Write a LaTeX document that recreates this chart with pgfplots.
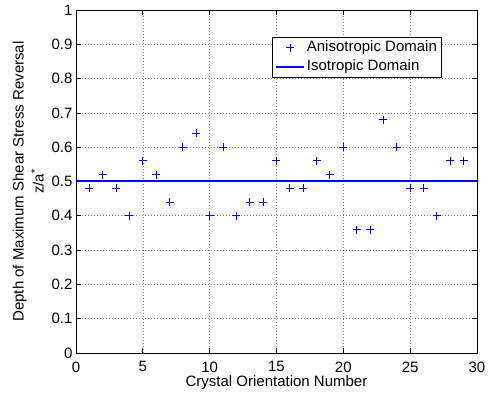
\documentclass[border=0pt]{standalone}
\usepackage{pgfplots}
\pgfplotsset{compat=1.18}
\usepackage{fontspec}
\setmainfont{Liberation Sans}
\definecolor{mblue}{RGB}{0,0,255}
\pgfplotsset{
  legmark/.style={legend image code/.code={\draw[mark repeat=2,mark phase=2,##1] plot coordinates {(0pt,0pt) (14pt,0pt) (28pt,0pt)};}},
  legline/.style={legend image code/.code={\draw[##1] (0pt,0pt) -- (28pt,0pt);}},
}
\begin{document}
\begin{tikzpicture}[x=1pt,y=1pt]
\begin{axis}[
  at={(0,0)}, anchor=origin,
  scale only axis, width=401pt, height=343pt,
  xmin=0, xmax=30, ymin=0, ymax=1,
  xtick={0,5,...,30}, ytick={0,0.1,...,1},
  yticklabels={0,0.1,0.2,0.3,0.4,0.5,0.6,0.7,0.8,0.9,1},
  /pgf/number format/assume math mode=true,
  tick label style={font=\fontsize{15}{17}\selectfont},
  xticklabel style={yshift=-5pt},
  label style={font=\fontsize{15}{20}\selectfont},
  grid=major,
  grid style={dash pattern=on 0.8pt off 2.2pt, black!50, line width=0.6pt},
  tick align=inside,
  major tick length=5pt,
  axis line style={line width=0.9pt},
  every tick/.style={line width=0.7pt, black},
  xlabel={Crystal Orientation Number},
  xlabel style={yshift=3pt},
  ylabel style={align=center, yshift=1pt},
  ylabel={Depth of Maximum Shear Stress Reversal\\z/a\textsuperscript{*}},
  legend style={at={(axis cs:14.66,0.921)}, anchor=north west,
    font=\fontsize{15}{17}\selectfont, draw=black, line width=0.8pt,
    inner xsep=3pt, inner ysep=1pt, row sep=0pt,
    nodes={inner sep=1.5pt, text height=12pt, text depth=4pt}},
  legend cell align=left,
]
\addplot[only marks, mark=+, draw=mblue, mark options={draw=mblue}, mark size=4pt, line width=1pt, legmark] coordinates {
(1,0.48) (2,0.52) (3,0.48) (4,0.40) (5,0.56) (6,0.52) (7,0.44) (8,0.60) (9,0.64) (10,0.40)
(11,0.60) (12,0.40) (13,0.44) (14,0.44) (15,0.56) (16,0.48) (17,0.48) (18,0.56) (19,0.52) (20,0.60)
(21,0.36) (22,0.36) (23,0.68) (24,0.60) (25,0.48) (26,0.48) (27,0.40) (28,0.56) (29,0.56)
};
\addlegendentry{Anisotropic Domain}
\addplot[draw=mblue, line width=2pt, legline] coordinates {(0,0.5) (30,0.5)};
\addlegendentry{Isotropic Domain}
\end{axis}
\path[use as bounding box] (-76,-51) rectangle (414,353);
\end{tikzpicture}
\end{document}
